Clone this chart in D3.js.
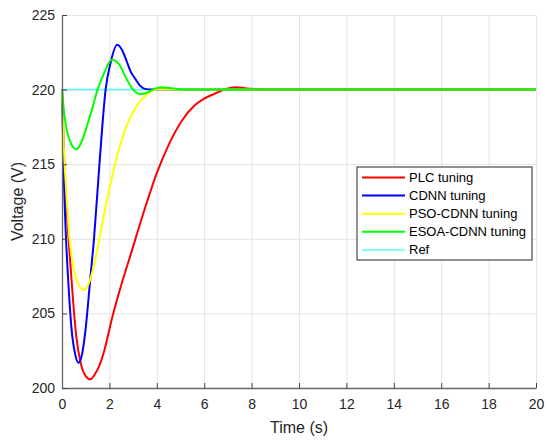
<!DOCTYPE html>
<html>
<head>
<meta charset="utf-8">
<script src="https://cdn.jsdelivr.net/npm/d3@7"></script>
<style>
  body { margin: 0; background: #fff; }
  svg { font-family: "Liberation Sans", Arial, Helvetica, sans-serif; }
  .axis text { fill: #262626; font-size: 14px; }
  .axis .domain { stroke: #666; stroke-width: 1.3; }
  .axis .tick line { stroke: #444; }
  .grid line { stroke: #e3e3e3; stroke-width: 1; }
  .grid .domain { display: none; }
</style>
</head>
<body>
<div id="chart"></div>
<script>
// series values, [time (s), voltage (V)]
const plcTuning = [
  [0, 220], [0.05, 217.6], [0.11, 214.6], [0.2, 211.8], [0.28, 209.9], [0.34, 208.6], [0.47, 205.8],
  [0.6, 203.5], [0.8, 201.6], [1.0, 200.8], [1.2, 200.58], [1.4, 200.95], [1.6, 201.6],
  [1.8, 202.6], [2.1, 204.6], [2.5, 206.9], [2.87, 208.8], [3.43, 211.7], [4.0, 214.4],
  [4.5, 216.3], [5.05, 217.9], [5.6, 218.95], [6.0, 219.4], [6.4, 219.7], [6.9, 220.02],
  [7.3, 220.15], [8.0, 220.05], [8.6, 220], [20, 220]
];
const cdnnTuning = [
  [0, 220], [0.08, 214], [0.17, 210], [0.27, 207], [0.4, 204], [0.55, 202.3], [0.7, 201.7],
  [0.85, 202.3], [1.0, 204.0], [1.18, 207.1], [1.35, 210], [1.58, 215], [1.84, 220],
  [2.05, 221.8], [2.33, 223.0], [2.55, 222.6], [2.73, 221.9], [2.9, 221.2], [3.1, 220.7],
  [3.3, 220.25], [3.5, 220.05], [3.8, 220], [20, 220]
];
const psoCdnnTuning = [
  [0, 220], [0.08, 216.0], [0.18, 213.2], [0.3, 210.3], [0.45, 208.4], [0.65, 207.1],
  [0.93, 206.57], [1.15, 207.1], [1.39, 208.5], [1.58, 210], [1.9, 212.6], [2.24, 215],
  [2.66, 217.3], [3.15, 218.9], [3.57, 219.65], [4.0, 220], [20, 220]
];
const esoaCdnnTuning = [
  [0, 220], [0.1, 218.3], [0.2, 217.3], [0.35, 216.5], [0.6, 216.0], [0.8, 216.4], [1.0, 217.3],
  [1.25, 218.6], [1.5, 220.0], [1.75, 221.0], [2.1, 222.0], [2.4, 221.7], [2.73, 220.7],
  [3.0, 220.0], [3.29, 219.7], [3.6, 219.8], [3.9, 220.05], [4.2, 220.15], [4.7, 220.08],
  [5.3, 220], [20, 220]
];
const refVoltage = [[0, 220], [20, 220]];

const seriesNames = ['PLC tuning', 'CDNN tuning', 'PSO-CDNN tuning', 'ESOA-CDNN tuning', 'Ref'];
const seriesData = [plcTuning, cdnnTuning, psoCdnnTuning, esoaCdnnTuning, refVoltage];
const seriesColors = ['#ff0000', '#0000ff', '#ffff00', '#00ff00', '#55ffff'];
const seriesWidths = [2, 2, 2, 2, 1.5];

const xTicks = [0, 2, 4, 6, 8, 10, 12, 14, 16, 18, 20];
const yTicks = [200, 205, 210, 215, 220, 225];

// layout
const width = 550, height = 442;
const margin = {t: 15, r: 14, b: 54, l: 62};
const w = width - margin.l - margin.r;
const h = height - margin.t - margin.b;

const svg = d3.select('#chart').append('svg')
  .attr('width', width)
  .attr('height', height);

const plot = svg.append('g')
  .attr('transform', `translate(${margin.l},${margin.t})`);

// scales
const scaleX = d3.scaleLinear().domain([0, 20]).range([0, w]);
const scaleY = d3.scaleLinear().domain([200, 225]).range([h, 0]);

// grid
plot.append('g')
  .attr('class', 'grid')
  .attr('transform', `translate(0,${h})`)
  .call(d3.axisBottom(scaleX).tickValues(xTicks).tickSize(-h).tickFormat(''));
plot.append('g')
  .attr('class', 'grid')
  .call(d3.axisLeft(scaleY).tickValues(yTicks).tickSize(-w).tickFormat(''));

// lines, reference underneath
const line = d3.line()
  .x(d => scaleX(d[0]))
  .y(d => scaleY(d[1]))
  .curve(d3.curveMonotoneX);

const order = [4, 0, 1, 2, 3];
plot.selectAll('.series')
  .data(order)
  .enter()
  .append('path')
  .attr('class', 'series')
  .attr('d', i => line(seriesData[i]))
  .style('fill', 'none')
  .style('stroke', i => seriesColors[i])
  .style('stroke-width', i => seriesWidths[i])
  .style('stroke-linejoin', 'round');

// axes, ticks inward
plot.append('g')
  .attr('class', 'axis axis-x')
  .attr('transform', `translate(0,${h})`)
  .call(d3.axisBottom(scaleX).tickValues(xTicks).tickSizeInner(-5).tickSizeOuter(0).tickPadding(11));
plot.append('g')
  .attr('class', 'axis axis-y')
  .call(d3.axisLeft(scaleY).tickValues(yTicks).tickSizeInner(-5).tickSizeOuter(0).tickPadding(7));

// axis titles
svg.append('text')
  .attr('x', margin.l + w / 2)
  .attr('y', 433)
  .attr('text-anchor', 'middle')
  .style('font-size', '16px')
  .style('fill', '#262626')
  .text('Time (s)');
svg.append('text')
  .attr('transform', `translate(23,${margin.t + h / 2}) rotate(-90)`)
  .attr('text-anchor', 'middle')
  .style('font-size', '16px')
  .style('fill', '#262626')
  .text('Voltage (V)');

// legend
const legend = svg.append('g')
  .attr('transform', 'translate(357,167)');
legend.append('rect')
  .attr('width', 175)
  .attr('height', 93)
  .style('fill', '#fff')
  .style('stroke', '#262626')
  .style('stroke-width', 1);
const item = legend.selectAll('.item')
  .data(seriesNames)
  .enter()
  .append('g')
  .attr('class', 'item')
  .attr('transform', (d, i) => `translate(0,${10.5 + i * 18.1})`);
item.append('line')
  .attr('x1', 5).attr('x2', 48)
  .style('stroke', (d, i) => seriesColors[i])
  .style('stroke-width', (d, i) => seriesWidths[i]);
item.append('text')
  .attr('x', 52)
  .attr('dy', '0.35em')
  .style('font-size', '13px')
  .style('fill', '#000')
  .text(d => d);
</script>
</body>
</html>
